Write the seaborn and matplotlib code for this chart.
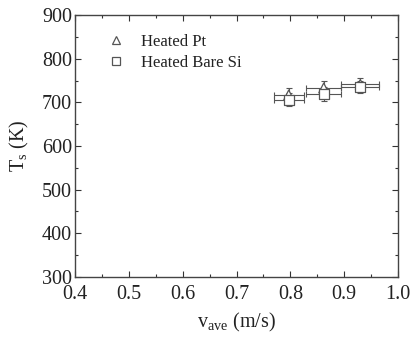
import matplotlib
matplotlib.use("Agg")
import matplotlib.pyplot as plt
import seaborn as sns
import pandas as pd
from matplotlib.ticker import MultipleLocator, FormatStrFormatter

sns.set_style("ticks")
plt.rcParams['font.family'] = ['Liberation Serif', 'DejaVu Serif']
plt.rcParams['mathtext.fontset'] = 'custom'
plt.rcParams['mathtext.rm'] = 'Liberation Serif'

v_pt = [0.797, 0.862, 0.930]
T_pt = [717, 733, 741]
v_si = [0.797, 0.862, 0.930]
T_si = [706, 719, 736]
xerr_pt = [0.028, 0.032, 0.035]
yerr_pt = [15, 15, 14]
xerr_si = [0.028, 0.032, 0.035]
yerr_si = [15, 15, 14]
series = ["Heated Pt", "Heated Bare Si"]

df = pd.DataFrame({
    "v": v_pt + v_si,
    "T": T_pt + T_si,
    "series": [series[0]] * len(v_pt) + [series[1]] * len(v_si),
})

fig = plt.figure(figsize=(4.11, 3.37), dpi=100)
ax = fig.add_axes([75/411, 1 - 277/337, (398-75)/411, (277-15)/337])

col = "#555555"
ax.errorbar(v_pt, T_pt, xerr=xerr_pt, yerr=yerr_pt, fmt='none', ecolor=col,
            elinewidth=0.8, capsize=2.5, capthick=0.8, zorder=1)
ax.errorbar(v_si, T_si, xerr=xerr_si, yerr=yerr_si, fmt='none', ecolor=col,
            elinewidth=0.8, capsize=2.5, capthick=0.8, zorder=1)

sns.scatterplot(data=df, x="v", y="T", style="series", markers={series[0]: "^", series[1]: "s"},
                s=50, facecolor="white", edgecolor=col, linewidth=0.9, color=col, ax=ax, zorder=3,
                legend=True)

ax.set_xlim(0.4, 1.0)
ax.set_ylim(300, 900)
ax.xaxis.set_major_locator(MultipleLocator(0.1))
ax.xaxis.set_minor_locator(MultipleLocator(0.05))
ax.xaxis.set_major_formatter(FormatStrFormatter('%.1f'))
ax.yaxis.set_major_locator(MultipleLocator(100))
ax.yaxis.set_minor_locator(MultipleLocator(50))
ax.tick_params(which='both', direction='in', top=True, right=True, color='#333333')
ax.tick_params(which='major', length=4, width=0.8, labelsize=14.5, labelcolor='#222222')
ax.tick_params(which='minor', length=2, width=0.8)
ax.tick_params(axis='x', pad=6)
ax.tick_params(axis='y', pad=2)
for sp in ax.spines.values():
    sp.set_color('#444444')
    sp.set_linewidth(1.0)

ax.set_xlabel(r"v$_{\mathregular{ave}}$ (m/s)", fontsize=14.5, color='#222222', labelpad=5)
ax.set_ylabel(r"T$_{\mathregular{s}}$ (K)", fontsize=14.5, color='#222222', labelpad=8)

leg = ax.legend(loc='upper left', bbox_to_anchor=(0.03, 0.985), frameon=False, fontsize=12,
                handletextpad=0.5, labelspacing=0.3, markerscale=0.85, title=None)
for h in leg.legend_handles:
    try:
        h.set_markerfacecolor('white')
        h.set_markeredgecolor(col)
    except AttributeError:
        h.set_facecolor('white')
        h.set_edgecolor(col)
for t in leg.get_texts():
    t.set_color('#222222')

fig.savefig("out.png", dpi=100, facecolor="white")
